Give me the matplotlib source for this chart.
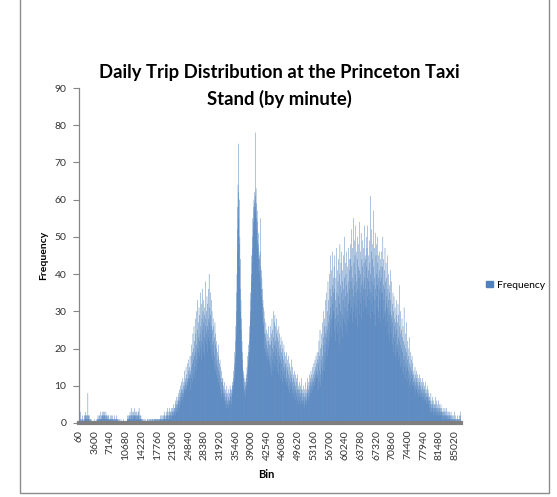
import numpy as np
import matplotlib
matplotlib.use('Agg')
import matplotlib.pyplot as plt
from matplotlib.patches import Rectangle, Patch

# trips per one-minute bin (bins 60 s ... 86400 s)
night = [  # 00:00 - 05:59
    2,1,0,1,3,1,0,0,1,0, 0,1,2,1,0,0,0,1,0,0, 1,2,2,1,3,2,1,2,1,2, 1,2,1,8,2,1,2,1,2,0, 1,0,1,1,0,0,1,0,0,0, 0,0,0,0,0,0,0,0,0,1,
    0,0,0,0,0,0,0,1,1,0, 1,2,1,0,1,2,1,1,2,1, 1,3,1,2,1,1,2,3,1,2, 2,1,3,2,1,2,3,2,1,1, 2,3,1,2,2,1,2,1,1,2, 1,1,2,1,0,1,1,2,1,1,
    1,2,1,1,0,1,2,1,1,0, 1,1,0,1,2,1,0,1,1,0, 1,2,1,1,0,1,1,0,0,1, 0,0,1,0,0,0,0,0,1,0, 0,0,0,0,0,0,0,1,0,0, 0,0,0,0,0,0,0,0,0,0,
    0,1,1,2,1,1,2,1,1,2, 2,1,3,2,1,1,2,4,2,1, 2,3,1,1,2,2,3,1,2,4, 2,1,3,2,2,1,3,2,1,2, 1,2,3,1,2,3,4,2,1,1, 2,1,1,2,1,0,1,1,0,1,
    0,0,1,0,0,0,1,0,0,0, 0,1,0,0,0,0,0,1,0,1, 0,0,0,1,0,0,1,0,0,1, 1,0,1,0,0,1,0,1,1,0, 1,0,0,1,1,0,1,0,1,1, 0,1,1,0,1,1,0,1,1,0,
    1,0,1,1,0,1,1,2,1,0, 1,1,2,1,0,1,2,1,1,2, 1,2,1,3,1,1,2,1,3,2, 1,2,4,1,2,3,1,2,1,3, 2,4,2,1,3,2,3,1,2,4, 3,2,4,3,2,5,3,2,4,3,
]
morning = [  # 06:00 - 11:59
    4,3,5,2,6,4,3,5,7,4, 5,6,3,7,5,8,6,4,9,6, 7,5,10,8,6,9,7,11,8,6, 9,12,7,10,8,11,9,14,10,8, 12,9,11,15,10,13,9,12,16,11, 10,14,12,17,11,13,15,12,18,13,
    14,9,18,12,21,15,11,19,16,24, 13,20,17,26,12,22,18,15,28,19, 24,14,21,30,17,25,20,33,16,23, 27,19,31,22,18,29,24,35,20,26, 22,32,17,28,25,36,21,30,19,27, 33,23,29,18,31,26,38,22,28,24,
    30,21,34,26,19,32,25,36,23,28, 40,22,31,27,35,20,29,24,33,18, 26,30,21,25,17,28,22,19,26,15, 23,18,27,14,21,24,16,20,13,22, 17,12,19,15,21,11,18,14,16,10, 13,17,9,15,12,8,14,11,7,12,
    11,9,12,8,10,7,9,6,8,11, 7,5,9,6,8,4,7,10,5,6, 8,5,7,4,9,6,5,8,6,10, 7,9,6,8,5,9,7,11,8,10, 10,12,9,14,11,16,13,19,15,22, 18,26,30,24,35,40,46,52,58,64,
    75,62,55,48,60,42,50,36,44,30, 33,25,28,20,22,17,15,19,12,14, 10,13,9,11,8,12,10,7,11,9, 13,10,12,15,11,14,18,16,21,19, 17,22,19,26,24,30,28,35,33,40, 38,45,43,50,47,55,52,58,54,60,
    57,62,59,56,78,61,58,63,55,59, 52,57,49,54,47,51,44,48,41,45, 44,40,46,38,55,42,36,41,34,39, 32,36,29,33,27,31,26,30,24,28, 20,24,19,23,27,21,18,25,22,17, 24,20,19,26,18,22,17,23,21,16,
]
afternoon = [  # 12:00 - 17:59
    21,15,26,18,24,13,22,28,17,20, 25,14,23,30,19,16,27,21,29,18, 22,26,15,24,20,28,17,23,14,25, 19,22,13,26,18,16,24,20,12,21, 17,23,14,19,16,22,11,18,20,13, 17,15,21,12,19,14,16,18,11,15,
    16,12,19,10,14,17,11,15,9,18, 13,10,16,12,8,15,11,14,9,13, 17,10,12,8,15,11,9,13,7,12, 10,14,8,11,6,13,9,10,7,12, 8,11,6,9,13,7,10,5,9,8, 11,6,9,7,10,5,8,12,6,9,
    8,6,9,5,7,10,6,8,4,7, 9,5,8,11,6,7,5,9,6,8, 10,7,12,8,6,9,11,7,10,13, 8,11,9,12,14,10,8,13,11,9, 12,15,10,13,11,16,12,14,10,17, 13,11,15,18,12,16,14,19,13,17,
    12,19,9,16,22,11,18,14,25,13, 20,10,17,24,15,21,12,27,18,14, 23,30,16,21,26,14,28,19,24,33, 17,26,21,35,23,18,30,25,38,20, 27,33,22,40,29,24,36,31,45,26, 34,28,41,23,37,32,46,29,39,35,
    30,42,25,36,45,28,33,22,39,31, 47,26,35,41,29,24,38,44,27,34, 21,40,32,48,26,37,30,43,25,35, 46,29,38,23,41,33,28,45,36,27, 39,50,31,26,43,34,40,24,37,46, 30,35,42,28,38,47,32,27,44,36,
    41,33,48,29,44,38,52,31,42,36, 27,47,39,34,55,30,43,37,49,32, 45,28,40,53,35,46,31,38,44,26, 50,36,42,33,48,39,29,54,41,35, 46,32,40,51,37,28,44,49,34,42, 38,30,47,36,43,53,33,39,45,31,
]
evening = [  # 18:00 - 23:59
    44,36,50,31,42,47,34,39,53,29, 45,38,41,33,49,36,43,28,61,40, 35,46,32,52,38,30,44,48,34,57, 37,42,29,47,39,33,51,36,26,45, 40,34,48,31,43,37,50,30,39,45, 28,41,36,46,33,38,44,27,42,35,
    39,46,31,42,35,50,28,37,44,33, 29,41,36,47,30,38,26,43,34,32, 39,27,45,31,36,24,40,33,29,37, 22,35,30,41,26,33,28,24,38,29, 21,32,27,35,23,30,19,34,26,28, 22,31,18,27,24,33,20,29,25,21,
    27,19,32,23,17,29,22,37,18,26, 21,15,30,24,16,25,20,28,14,23, 19,26,13,22,17,31,15,21,18,24, 12,20,16,27,14,19,11,22,17,15, 20,12,18,14,23,10,16,13,19,11, 15,9,17,12,14,18,10,13,16,11,
    13,10,14,11,9,12,15,10,13,8, 11,14,9,12,10,8,13,11,9,12, 7,10,13,8,11,9,7,12,10,8, 9,11,7,10,8,12,6,9,11,7, 8,10,6,9,7,11,8,6,9,7, 5,8,10,6,7,9,5,8,6,7,
    6,4,7,5,3,6,8,4,5,3, 6,4,5,7,3,4,6,2,5,4, 3,5,7,4,3,5,2,4,6,3, 4,2,5,3,4,6,2,3,5,4, 2,3,4,2,5,3,2,4,3,1, 3,2,4,2,3,1,2,3,2,4,
    2,3,1,2,4,2,1,3,2,1, 2,3,1,2,1,3,2,1,2,0, 1,2,3,1,1,2,0,1,2,1, 0,1,2,1,0,1,3,1,0,1, 2,0,1,1,0,1,2,0,1,0, 1,1,0,2,1,0,1,2,0,3,
]

freq = night + morning + afternoon + evening
bins = [60 * (i + 1) for i in range(len(freq))]

plt.rcParams['font.family'] = ['Lato', 'DejaVu Sans']

fig = plt.figure(figsize=(5.57, 4.97), dpi=100)
ax = fig.add_axes([79/557, 1-423/497, (461-79)/557, (423-88)/497])

x = np.arange(len(freq))
# no pixel snapping, so the thin bars blend like the excel rendering
ax.bar(x, freq, width=0.9, color='#4F81BD', edgecolor='#4F81BD', linewidth=0.1, snap=False)

ax.set_xlim(-0.5, len(freq) - 0.5)
ax.set_ylim(0, 90)
ax.set_yticks(range(0, 91, 10))
tick_pos = x[::59]
ax.set_xticks(tick_pos)
ax.set_xticklabels([str(bins[i]) for i in tick_pos], rotation=90, fontsize=7.5, color='#333333')
ax.tick_params(axis='x', length=0, pad=5)
ax.tick_params(axis='y', length=4, color='#868686', labelsize=7.5, labelcolor='#333333', pad=5)

for s in ['top', 'right']:
    ax.spines[s].set_visible(False)
ax.spines['left'].set_color('#868686')
ax.spines['left'].set_linewidth(0.9)
ax.spines['bottom'].set_color('#7F7F7F')
ax.spines['bottom'].set_linewidth(3)

ax.set_xlabel('Bin', fontsize=8, fontweight='bold')
ax.xaxis.set_label_coords(0.49, -0.138)
ax.set_ylabel('Frequency', fontsize=7.5, fontweight='bold')
ax.yaxis.set_label_coords(-0.08, 0.5)

fig.text(279/557, 1-64/497, 'Daily Trip Distribution at the Princeton Taxi\nStand (by minute)',
         ha='center', va='top', fontsize=13.3, fontweight='bold', linespacing=1.62)

fig.legend(handles=[Patch(color='#4F81BD', label='Frequency')], loc='center left',
           bbox_to_anchor=(477/557, 1-285/497), frameon=False, fontsize=7.5,
           handlelength=0.6, handleheight=0.6, handletextpad=0.4)

# chart frame
fig.patches.append(Rectangle((20/557, 1-493/497), (549-20)/557, 0.995, transform=fig.transFigure,
                             fill=False, edgecolor='#8C8C8C', linewidth=1))

fig.savefig('out.png', dpi=100)
